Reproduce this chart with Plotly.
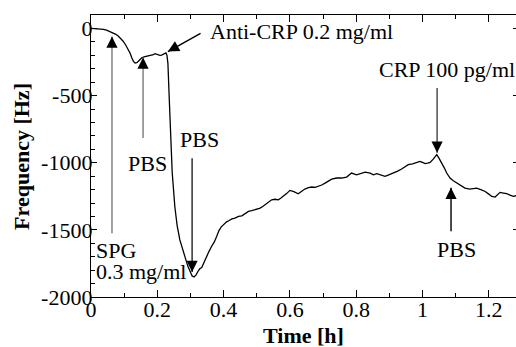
import plotly.graph_objects as go

# ---- data ----
time_h = [0.000, 0.015, 0.027, 0.038, 0.047, 0.057, 0.067, 0.075, 0.082, 0.090, 0.097,
          0.105, 0.113, 0.118, 0.123, 0.128, 0.133, 0.138, 0.143, 0.148, 0.153, 0.160,
          0.168, 0.175, 0.183, 0.188, 0.193, 0.198, 0.203, 0.208, 0.213, 0.218, 0.222,
          0.226, 0.229, 0.232, 0.236, 0.240, 0.245, 0.253, 0.260, 0.268, 0.276, 0.284,
          0.292, 0.299, 0.305, 0.311, 0.317, 0.322, 0.328, 0.334, 0.341, 0.349, 0.356,
          0.364, 0.372, 0.379, 0.386, 0.393, 0.401, 0.409, 0.417, 0.425, 0.434, 0.445,
          0.455, 0.465, 0.475, 0.485, 0.495, 0.503, 0.510, 0.518, 0.525, 0.535, 0.545,
          0.555, 0.565, 0.572, 0.580, 0.590, 0.600, 0.612, 0.625, 0.635, 0.645, 0.656,
          0.666, 0.676, 0.686, 0.696, 0.706, 0.716, 0.726, 0.741, 0.756, 0.771, 0.786,
          0.801, 0.814, 0.827, 0.842, 0.852, 0.862, 0.875, 0.887, 0.900, 0.912, 0.925,
          0.937, 0.947, 0.957, 0.970, 0.982, 0.992, 1.000, 1.008, 1.015, 1.023, 1.033,
          1.043, 1.050, 1.058, 1.066, 1.073, 1.083, 1.093, 1.103, 1.115, 1.128, 1.143,
          1.153, 1.163, 1.176, 1.189, 1.200, 1.209, 1.219, 1.226, 1.234, 1.244, 1.254,
          1.264, 1.274, 1.282]
freq_hz = [0, -1, -3, -7, -13, -22, -32, -44, -57, -75, -95,
           -125, -157, -185, -219, -245, -258, -255, -244, -230, -219, -212,
           -207, -205, -201, -196, -188, -192, -196, -201, -199, -194, -190,
           -182, -200, -260, -520, -800, -1075, -1330, -1470, -1575, -1650, -1705,
           -1770, -1805, -1843, -1850, -1835, -1812, -1790, -1780, -1740, -1690, -1660,
           -1622, -1590, -1550, -1505, -1478, -1455, -1440, -1430, -1418, -1412, -1400,
           -1396, -1380, -1363, -1357, -1351, -1344, -1338, -1326, -1314, -1295, -1276,
           -1272, -1276, -1265, -1251, -1230, -1206, -1215, -1231, -1212, -1196, -1186,
           -1181, -1183, -1177, -1166, -1152, -1140, -1122, -1114, -1114, -1107, -1077,
           -1090, -1080, -1070, -1077, -1090, -1082, -1092, -1102, -1088, -1077, -1062,
           -1047, -1030, -1015, -1008, -998, -990, -998, -1007, -1003, -998, -972,
           -940, -968, -1002, -1040, -1077, -1114, -1135, -1152, -1172, -1189, -1196,
           -1193, -1189, -1200, -1214, -1234, -1251, -1256, -1240, -1221, -1226, -1231,
           -1242, -1251, -1246]

x_ticks = [0, 0.2, 0.4, 0.6, 0.8, 1.0, 1.2]
x_ticklabels = ["0", "0.2", "0.4", "0.6", "0.8", "1", "1.2"]
y_ticks = [0, -500, -1000, -1500, -2000]
y_ticklabels = ["0", "-500", "-1000", "-1500", "-2000"]

FONT = "Liberation Serif, Times New Roman, serif"
FS = 22

fig = go.Figure()
fig.add_trace(go.Scatter(x=time_h, y=freq_hz, mode="lines",
                         line=dict(color="black", width=1.3), showlegend=False,
                         hoverinfo="skip"))
# invisible trace for the right-side tick marks
fig.add_trace(go.Scatter(x=[time_h[0]], y=[freq_hz[0]], yaxis="y2", mode="lines",
                         line=dict(width=0), showlegend=False, hoverinfo="skip"))

fig.update_layout(
    width=516, height=347,
    margin=dict(l=91, r=0, t=15, b=50),
    plot_bgcolor="white", paper_bgcolor="white",
    font=dict(family=FONT, size=FS, color="black"),
    xaxis=dict(range=[0, 1.282], tickvals=x_ticks, ticktext=x_ticklabels,
               ticks="inside", ticklen=7, tickwidth=1.2, tickcolor="black",
               showline=True, linecolor="black", linewidth=1.3, mirror="ticks",
               showgrid=False, zeroline=False, ticklabelstandoff=-8,
               minor=dict(dtick=0.1, ticks="inside", ticklen=4, tickwidth=1.2,
                          tickcolor="black", showgrid=False),
               tickfont=dict(family=FONT, size=FS)),
    yaxis=dict(range=[-2000, 100], tickvals=y_ticks, ticktext=y_ticklabels,
               ticks="inside", ticklen=6, tickwidth=1.2, tickcolor="black",
               showline=True, linecolor="black", linewidth=1.3, mirror=False,
               showgrid=False, zeroline=False, ticklabelstandoff=-7,
               minor=dict(dtick=100, tick0=0, ticks="inside", ticklen=4, tickwidth=1.2,
                          tickcolor="black", showgrid=False),
               tickfont=dict(family=FONT, size=FS)),
    yaxis2=dict(range=[-2000, 100], overlaying="y", side="right", tickvals=y_ticks,
                ticks="inside", ticklen=3, tickwidth=1.2, tickcolor="black",
                showticklabels=False, showline=False, showgrid=False, zeroline=False),
)

gray = "#7a7a7a"
annotations = [
    # axis titles
    dict(text="<b>Frequency [Hz]</b>", xref="paper", yref="paper", x=-0.165, y=0.5,
         textangle=-90, showarrow=False, xanchor="center", yanchor="middle",
         font=dict(family=FONT, size=FS)),
    dict(text="<b>Time [h]</b>", xref="paper", yref="paper", x=0.5, y=-0.135,
         showarrow=False, xanchor="center", yanchor="middle",
         font=dict(family=FONT, size=FS)),
    # labels
    dict(text="Anti-CRP 0.2 mg/ml", x=0.353, y=-22, xanchor="left", yanchor="middle",
         showarrow=False),
    dict(text="PBS", x=0.169, y=-1003, xanchor="center", yanchor="middle", showarrow=False),
    dict(text="PBS", x=0.326, y=-825, xanchor="center", yanchor="middle", showarrow=False),
    dict(text="SPG", x=0.009, y=-1650, xanchor="left", yanchor="middle", showarrow=False),
    dict(text="0.3 mg/ml", x=0.009, y=-1810, xanchor="left", yanchor="middle", showarrow=False),
    dict(text="CRP 100 pg/ml", x=1.074, y=-306, xanchor="center", yanchor="middle",
         showarrow=False),
    dict(text="PBS", x=1.104, y=-1649, xanchor="center", yanchor="middle", showarrow=False),
]

# arrows: (tip x, tip y, tail x, tail y, colour of shaft)
arrows = [
    (0.0633, -60, 0.0633, -1537, gray),
    (0.157, -216, 0.157, -828, gray),
    (0.232, -172, 0.335, -30, "black"),
    (0.305, -1813, 0.305, -955, "#222"),
    (1.044, -925, 1.044, -433, "#444"),
    (1.086, -1187, 1.086, -1522, "black"),
]
for tx, ty, sx, sy, col in arrows:
    # shaft
    annotations.append(dict(text="", x=tx, y=ty, ax=sx, ay=sy, axref="x", ayref="y",
                            showarrow=True, arrowhead=0, arrowwidth=1.4, arrowcolor=col))
    # black head
    slanted = abs(sx - tx) > 0.02
    frac = 0.12 if slanted else 90 / abs(sy - ty)
    annotations.append(dict(text="", x=tx, y=ty,
                            ax=tx + (sx - tx) * frac, ay=ty + (sy - ty) * frac,
                            axref="x", ayref="y", showarrow=True, arrowhead=2,
                            arrowsize=1.6, arrowwidth=1.4, arrowcolor="black"))
fig.update_layout(annotations=annotations)

fig.write_html("out.html", config={"displayModeBar": False},
               post_script="document.body.style.margin='0';")
